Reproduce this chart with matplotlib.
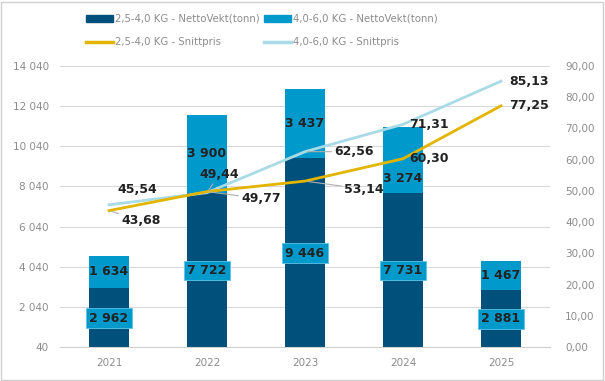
import matplotlib

matplotlib.use("agg")
import matplotlib.pyplot as plt
from matplotlib.patches import Patch, Rectangle
from matplotlib.lines import Line2D

years = ["2021", "2022", "2023", "2024", "2025"]
vekt_small = [2962, 7722, 9446, 7731, 2881]   # 2,5-4,0 KG
vekt_large = [1634, 3900, 3437, 3274, 1467]   # 4,0-6,0 KG
pris_small = [43.68, 49.77, 53.14, 60.30, 77.25]
pris_large = [45.54, 49.44, 62.56, 71.31, 85.13]
left_ticks = [40, 2040, 4040, 6040, 8040, 10040, 12040, 14040]
right_ticks = [0, 10, 20, 30, 40, 50, 60, 70, 80, 90]

DARK = "#00507c"
CYAN = "#0099cc"
GOLD = "#e3b500"
LIGHT = "#a9dbe6"
GREY = "#8c8c8c"
TXT = "#222222"

plt.rcParams["font.family"] = ["DejaVu Sans"]


def num(v):
    return f"{v:,}".replace(",", " ")


def dec(v):
    return f"{v:.2f}".replace(".", ",")


fig = plt.figure(figsize=(6.05, 3.81), dpi=100)
ax = fig.add_axes([60 / 605, 1 - 347 / 381, 490 / 605, (347 - 66) / 381])
ax2 = ax.twinx()

x = list(range(len(years)))
ax.bar(x, vekt_small, width=0.4, color=DARK, zorder=2)
ax.bar(x, vekt_large, width=0.4, bottom=vekt_small, color=CYAN, zorder=2)

ax.set_xlim(-0.5, 4.5)
ax.set_ylim(40, 14040)
ax.set_yticks(left_ticks)
ax.set_yticklabels([num(t) for t in left_ticks])
ax.set_xticks(x)
ax.set_xticklabels(years)
ax.grid(axis="y", color="#d9d9d9", linewidth=0.8, zorder=0)
ax.set_axisbelow(True)
for s in ["top", "left", "right"]:
    ax.spines[s].set_visible(False)
    ax2.spines[s].set_visible(False)
ax.spines["bottom"].set_color("#d0d0d0")
ax2.spines["bottom"].set_visible(False)
ax.tick_params(axis="both", length=0, colors=GREY, labelsize=7.5, pad=8)

ax2.set_ylim(0, 90)
ax2.set_yticks(right_ticks)
ax2.set_yticklabels([dec(t) for t in right_ticks])
ax2.tick_params(axis="y", length=0, colors=GREY, labelsize=7.5, pad=11)

# bar labels
for i in x:
    ax.text(i, vekt_small[i] / 2, num(vekt_small[i]), ha="center", va="center",
            fontsize=9, fontweight="bold", color=TXT, zorder=5,
            bbox=dict(boxstyle="square,pad=0.25", fc=CYAN, ec="#5ec4e8", lw=0.6))
    yl = vekt_small[i] + vekt_large[i] / 2
    if years[i] == "2024":
        yl = vekt_small[i] + vekt_large[i] * 0.22
    ax.text(i, yl, num(vekt_large[i]), ha="center", va="center",
            fontsize=9, fontweight="bold", color=TXT, zorder=5)

# price lines
ax2.plot(x, pris_large, color=LIGHT, linewidth=2, zorder=3)
ax2.plot(x, pris_small, color=GOLD, linewidth=2, zorder=3)

# label offsets in pixels (dx, dy, leader line)
off_large = [(28, 15, False), (12, 18, True), (49, 0, True), (26, 0, False), (28, 0, False)]
off_small = [(32, -10, True), (54, -7, True), (59, -8, True), (26, 0, False), (28, 0, False)]
for vals, offs in [(pris_large, off_large), (pris_small, off_small)]:
    for i in x:
        dx, dy, lead = offs[i]
        ap = dict(arrowstyle="-", color="#b0b0b0", lw=0.8, shrinkA=0, shrinkB=2) if lead else None
        ax2.annotate(dec(vals[i]), (i, vals[i]), xytext=(dx, dy), textcoords="offset pixels",
                     ha="center", va="center", fontsize=9, fontweight="bold", color=TXT,
                     arrowprops=ap, annotation_clip=False, zorder=6)

handles = [Patch(color=DARK), Line2D([], [], color=GOLD, lw=2.5),
           Patch(color=CYAN), Line2D([], [], color=LIGHT, lw=2.5)]
labels = ["2,5-4,0 KG - NettoVekt(tonn)", "2,5-4,0 KG - Snittpris",
          "4,0-6,0 KG - NettoVekt(tonn)", "4,0-6,0 KG - Snittpris"]
leg = fig.legend(handles, labels, loc="center", bbox_to_anchor=(0.433, 0.92), ncol=2,
                 frameon=False, fontsize=7.3, handlelength=2.6, handleheight=0.6,
                 handletextpad=0.2, columnspacing=0.5, labelspacing=1.3)
for t in leg.get_texts():
    t.set_color(GREY)

fig.patches.append(Rectangle((0.002, 0.003), 0.995, 0.993, transform=fig.transFigure,
                             fill=False, ec="#d0d0d0", lw=1))

fig.savefig("out.png", dpi=100)
